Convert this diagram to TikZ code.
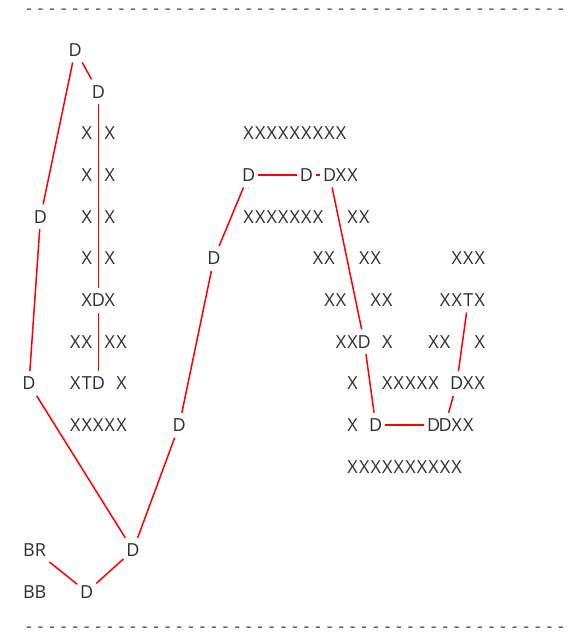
\documentclass[tikz,border=0pt]{standalone}
\usepackage{fontspec}
\setmainfont{Open Sans}
\definecolor{ink}{HTML}{2E2E2E}
\definecolor{dashink}{HTML}{4A4A4A}
\definecolor{edgered}{HTML}{FF0000}
\newlength\cw \setlength\cw{11.56pt}
\def\mtx#1{\ifx#1\relax\else\makebox[\cw][c]{#1}\expandafter\mtx\fi}
\newcommand\mt[1]{\mtx#1\relax}
\tikzset{
  g/.style={inner sep=0pt, outer xsep=3pt, outer ysep=6pt, text height=12.8pt, text depth=0pt,
            font=\fontsize{18}{20}\selectfont, text=ink},
  dashrow/.style={inner sep=0pt, font=\fontsize{18}{20}\selectfont, text=dashink},
  link/.style={draw=edgered, line width=1.5pt},
}
\begin{document}
\begin{tikzpicture}
\useasboundingbox (0pt,0pt) rectangle (578pt,-637pt);
\node[dashrow, anchor=base] (topdash) at (294.9pt,-14.6pt) {\mt{-----------------------------------------------}};
\node[dashrow, anchor=base] (botdash) at (294.9pt,-632.5pt) {\mt{-----------------------------------------------}};
\begin{scope}[shift={(29pt,-50pt)}, x=11.56pt, y=-41.69pt]
% row 0-1
\node[g] (d4r0) at (4,0) {D};
\node[g] (d6r1) at (6,1) {D};
% row 2
\node[g] (x2a) at (6,2) {\mt{X~X}};
\node[g] (x2b) at (23,2) {\mt{XXXXXXXXX}};
% row 3
\node[g] (x3a) at (6,3) {\mt{X~X}};
\node[g] (d19r3) at (19,3) {D};
\node[g] (d24r3) at (24,3) {D};
\node[g] (d26r3) at (26,3) {D};
\node[g] (x3b) at (27.5,3) {\mt{XX}};
% row 4
\node[g] (d1r4) at (1,4) {D};
\node[g] (x4a) at (6,4) {\mt{X~X}};
\node[g] (x4b) at (22,4) {\mt{XXXXXXX}};
\node[g] (x4c) at (28.5,4) {\mt{XX}};
% row 5
\node[g] (x5a) at (6,5) {\mt{X~X}};
\node[g] (d16r5) at (16,5) {D};
\node[g] (x5b) at (25.5,5) {\mt{XX}};
\node[g] (x5c) at (29.5,5) {\mt{XX}};
\node[g] (x5d) at (38,5) {\mt{XXX}};
% row 6
\node[g] (x6a) at (5,6) {X};
\node[g] (d6r6) at (6,6) {D};
\node[g] (x6b) at (7,6) {X};
\node[g] (x6c) at (26.5,6) {\mt{XX}};
\node[g] (x6d) at (30.5,6) {\mt{XX}};
\node[g] (x6e) at (36.5,6) {\mt{XX}};
\node[g] (t38r6) at (38,6) {T};
\node[g] (x6f) at (39,6) {X};
% row 7
\node[g] (x7a) at (4.5,7) {\mt{XX}};
\node[g] (x7b) at (7.5,7) {\mt{XX}};
\node[g] (x7c) at (27.5,7) {\mt{XX}};
\node[g] (d29r7) at (29,7) {D};
\node[g] (x7d) at (31,7) {X};
\node[g] (x7e) at (35.5,7) {\mt{XX}};
\node[g] (x7f) at (39,7) {X};
% row 8
\node[g] (d0r8) at (0,8) {D};
\node[g] (x8a) at (4.5,8) {\mt{XT}};
\node[g] (d6r8) at (6,8) {D};
\node[g] (x8b) at (8,8) {X};
\node[g] (x8c) at (28,8) {X};
\node[g] (x8d) at (33,8) {\mt{XXXXX}};
\node[g] (d37r8) at (37,8) {D};
\node[g] (x8e) at (38.5,8) {\mt{XX}};
% row 9
\node[g] (x9a) at (6,9) {\mt{XXXXX}};
\node[g] (d13r9) at (13,9) {D};
\node[g] (x9b) at (28,9) {X};
\node[g] (d30r9) at (30,9) {D};
\node[g] (d35r9) at (35,9) {D};
\node[g] (d36r9) at (36,9) {D};
\node[g] (x9c) at (37.5,9) {\mt{XX}};
% row 10
\node[g] (x10) at (32.5,10) {\mt{XXXXXXXXXX}};
% rows 12-13
\node[g] (br) at (0.5,12) {\mt{BR}};
\node[g] (d9r12) at (9,12) {D};
\node[g] (bb) at (0.5,13) {\mt{BB}};
\node[g] (d5r13) at (5,13) {D};
\end{scope}
% connectors
\draw[link] (d4r0) -- (d6r1);
\draw[link] (d4r0) -- (d1r4);
\draw[link] (d6r1) -- (d6r6);
\draw[link] (d6r6) -- (d6r8);
\draw[link] (d1r4) -- (d0r8);
\draw[link] (d0r8) -- (d9r12);
\draw[link] (d9r12) -- (d5r13);
\draw[link] (br) -- (d5r13);
\draw[link] (d9r12) -- (d13r9);
\draw[link] (d13r9) -- (d16r5);
\draw[link] (d16r5) -- (d19r3);
\draw[link] (d19r3) -- (d24r3);
\draw[link] (d24r3) -- (d26r3);
\draw[link] (d26r3) -- (d29r7);
\draw[link] (d29r7) -- (d30r9);
\draw[link] (d30r9) -- (d35r9);
\draw[link] (d36r9) -- (d37r8);
\draw[link] (d37r8) -- (t38r6);
\end{tikzpicture}
\end{document}
